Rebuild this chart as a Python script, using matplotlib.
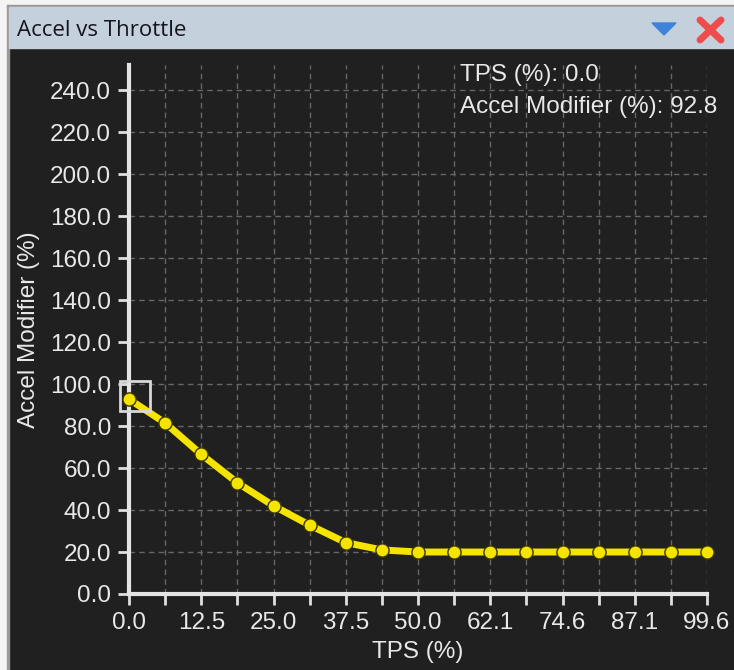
import matplotlib.pyplot as plt
from matplotlib.patches import Rectangle, Polygon
from matplotlib.lines import Line2D

# data
tps = [0.0, 6.2, 12.5, 18.7, 25.0, 31.2, 37.5, 43.7, 50.0,
       56.0, 62.1, 68.3, 74.6, 80.8, 87.1, 93.3, 99.6]
accel = [92.8, 81.5, 66.5, 53.0, 42.0, 32.8, 24.5, 21.0, 20.0,
         20.0, 20.0, 20.0, 20.0, 20.0, 20.0, 20.0, 20.0]
y_ticks = [0, 20, 40, 60, 80, 100, 120, 140, 160, 180, 200, 220, 240]

bg = '#202020'
fg = '#e8e8e8'
font = 'Liberation Sans'
fs = 17.5

fig = plt.figure(figsize=(7.34, 6.70), dpi=100)
fig.patch.set_facecolor(bg)

W, H = 734, 670
def fr(x, y, w, h, color):
    fig.patches.append(Rectangle((x / W, 1 - (y + h) / H), w / W, h / H,
                                 transform=fig.transFigure, color=color, zorder=0))

# window frame and title bar
fr(0, 0, W, 5, '#f4f4f4')
fr(0, 0, 7, H, '#f4f4f4')
fr(7, 5, W - 7, 2, '#9a9a9a')
fr(7, 5, 2, H - 5, '#9a9a9a')
fr(9, 7, W - 9, 41, '#c4d0dc')
fig.text(17 / W, 1 - 30 / H, 'Accel vs Throttle', fontsize=16,
         family='Open Sans', color='#151520', va='center', ha='left')
tri = [(652, 23), (676, 23), (664, 35)]
fig.patches.append(Polygon([(x / W, 1 - y / H) for x, y in tri], closed=True,
                           transform=fig.transFigure, color='#3f82dc', zorder=2))
fig.add_artist(Line2D([700 / W, 721 / W], [1 - 20 / H, 1 - 40 / H], lw=5,
                      color='#f04c4c', solid_capstyle='round', transform=fig.transFigure))
fig.add_artist(Line2D([700 / W, 721 / W], [1 - 40 / H, 1 - 20 / H], lw=5,
                      color='#f04c4c', solid_capstyle='round', transform=fig.transFigure))

ax = fig.add_axes([129 / W, 1 - 594 / H, (707 - 129) / W, (594 - 65) / H])
ax.set_facecolor(bg)

idx = list(range(len(tps)))
ax.plot(idx, accel, color='#f5e400', lw=5, marker='o', markersize=9.5,
        markerfacecolor='#f5e400', markeredgecolor='#3a3600', markeredgewidth=1,
        zorder=4, clip_on=False)
# selection box around the first point
ax.plot([idx[0] + 0.17], [accel[0] + 1.5], marker='s', markersize=22,
        markerfacecolor='none', markeredgecolor='#d8d8d8', markeredgewidth=2,
        zorder=5, clip_on=False)

ax.set_xlim(0, len(tps) - 1)
ax.set_ylim(0, 252)
ax.set_xticks(idx)
ax.set_xticklabels([f'{v:.1f}' if i % 2 == 0 else '' for i, v in enumerate(tps)])
ax.set_yticks(y_ticks)
ax.set_yticklabels([f'{v:.1f}' for v in y_ticks])

ax.grid(True, color='#666666', linestyle=(0, (4, 3)), linewidth=1)
ax.set_axisbelow(True)
for s in ['top', 'right']:
    ax.spines[s].set_visible(False)
for s in ['left', 'bottom']:
    ax.spines[s].set_color('#e4e4e4')
    ax.spines[s].set_linewidth(3)
ax.tick_params(colors='#e0e0e0', length=8, width=2, labelsize=fs,
               labelcolor=fg, pad=5)
for lbl in ax.get_xticklabels() + ax.get_yticklabels():
    lbl.set_family(font)

ax.set_xlabel('TPS (%)', fontsize=fs, color=fg, family=font, labelpad=5)
ax.set_ylabel('Accel Modifier (%)', fontsize=fs, color=fg, family=font, labelpad=7)

ax.text(460 / W, 1 - 75 / H, f'TPS (%): {tps[0]:.1f}', transform=fig.transFigure,
        fontsize=fs, color=fg, family=font, va='center', ha='left')
ax.text(460 / W, 1 - 107 / H, f'Accel Modifier (%): {accel[0]:.1f}',
        transform=fig.transFigure, fontsize=fs, color=fg, family=font,
        va='center', ha='left')

fig.savefig('out.png', dpi=100, facecolor=fig.get_facecolor())
